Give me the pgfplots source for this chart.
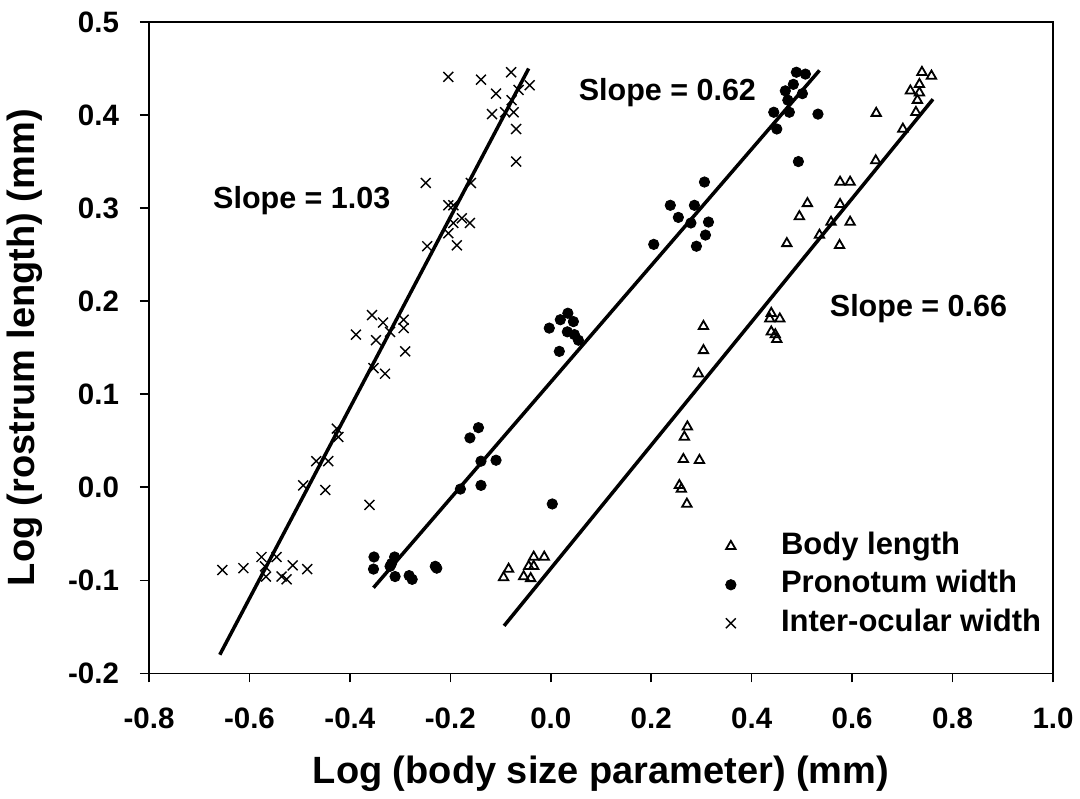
\documentclass[border=0pt]{standalone}
\usepackage{fontspec}
\setmainfont{Liberation Sans}
\usepackage{pgfplots}
\pgfplotsset{compat=1.18}

\begin{document}
\begin{tikzpicture}
\begin{axis}[
    name=main,
    scale only axis,
    width=452pt, height=325.65pt,
    xmin=-0.8, xmax=1.0, ymin=-0.2, ymax=0.5,
    xtick={-0.8,-0.6,-0.4,-0.2,0,0.2,0.4,0.6,0.8,1.0},
    ytick={-0.2,-0.1,0,0.1,0.2,0.3,0.4,0.5},
    xtick pos=left, ytick pos=left,
    tick align=outside, major tick length=4.5pt,
    axis line style={line width=0.75pt},
    tick style={black, line width=0.75pt},
    ticklabel style={font=\fontsize{14.75}{16}\selectfont\bfseries},
    xticklabel style={yshift=-9.5pt},
    yticklabel style={xshift=-7pt},
    /pgf/number format/.cd, fixed, fixed zerofill, precision=1, assume math mode=true,
    /pgfplots/.cd,
    xlabel={Log (body size parameter) (mm)},
    ylabel={Log (rostrum length) (mm)},
    label style={font=\fontsize{19}{22}\selectfont\bfseries},
    xlabel style={at={(axis description cs:0.5,-0.1535)}, anchor=center},
    ylabel style={at={(axis description cs:-0.1372,0.5)}, anchor=center},
    legend cell align=left,
    legend style={draw=none, fill=none, at={(axis cs:0.3474,-0.048)}, anchor=north west,
        inner sep=0pt, row sep=5.25pt, column sep=22.5pt,
        nodes={inner sep=0pt, text height=11pt, text depth=3pt},
        font=\fontsize{15.5}{18}\selectfont\bfseries},
]

% Body length
\addplot[only marks, mark=triangle, mark size=2.7pt, mark options={line width=0.9pt, fill=white, draw=black}] coordinates {
(0.739,0.446) (0.758,0.442) (0.734,0.433) (0.716,0.426) (0.734,0.424) (0.730,0.416)
(0.727,0.403) (0.648,0.402) (0.701,0.385) (0.647,0.351) (0.576,0.328) (0.596,0.328)
(0.511,0.305) (0.576,0.304) (0.495,0.291) (0.558,0.285) (0.596,0.285) (0.535,0.271)
(0.470,0.262) (0.575,0.260) (0.304,0.173) (0.304,0.147) (0.439,0.187) (0.436,0.181)
(0.456,0.181) (0.439,0.167) (0.447,0.164) (0.450,0.159) (0.294,0.122) (0.272,0.065)
(0.266,0.054) (0.264,0.030) (0.296,0.029) (0.256,0.002) (0.260,-0.002) (0.271,-0.018)
(-0.034,-0.075) (-0.013,-0.075) (-0.084,-0.088) (-0.094,-0.097) (-0.044,-0.085)
(-0.034,-0.085) (-0.054,-0.096) (-0.040,-0.098)
};
\addlegendentry{Body length}

% Pronotum width
\addplot[only marks, mark=*, mark size=2.6pt, black] coordinates {
(0.444,0.403) (0.450,0.385) (0.306,0.328) (0.238,0.303) (0.286,0.303) (0.254,0.290)
(0.279,0.284) (0.314,0.285) (0.308,0.271) (0.290,0.259) (0.205,0.261) (0.034,0.187)
(0.019,0.180) (0.045,0.178) (-0.003,0.171) (0.033,0.167) (0.047,0.164) (0.055,0.158)
(0.017,0.146) (0.489,0.446) (0.507,0.444) (0.483,0.433) (0.467,0.426) (0.501,0.423)
(0.472,0.416) (0.475,0.403) (0.532,0.401) (0.493,0.350) (-0.144,0.064) (-0.161,0.053)
(-0.139,0.028) (-0.109,0.029) (-0.180,-0.002) (-0.139,0.002) (0.003,-0.018)
(-0.352,-0.075) (-0.353,-0.088) (-0.311,-0.075) (-0.317,-0.082) (-0.320,-0.085)
(-0.310,-0.096) (-0.282,-0.095) (-0.276,-0.099) (-0.230,-0.085) (-0.227,-0.087)
};
\addlegendentry{Pronotum width}

% Inter-ocular width
\addplot[only marks, mark=x, mark size=3.5pt, mark options={line width=0.7pt}, black] coordinates {
(-0.204,0.441) (-0.139,0.438) (-0.079,0.446) (-0.042,0.432) (-0.109,0.423) (-0.064,0.427)
(-0.078,0.416) (-0.117,0.401) (-0.091,0.403) (-0.074,0.403) (-0.069,0.385) (-0.069,0.350)
(-0.249,0.327) (-0.159,0.327) (-0.204,0.303) (-0.194,0.303) (-0.177,0.289) (-0.161,0.284)
(-0.194,0.284) (-0.204,0.273) (-0.246,0.259) (-0.187,0.260) (-0.356,0.185) (-0.334,0.177)
(-0.293,0.180) (-0.293,0.171) (-0.388,0.164) (-0.348,0.158) (-0.320,0.167) (-0.290,0.146)
(-0.353,0.128) (-0.330,0.122) (-0.426,0.063) (-0.423,0.054) (-0.467,0.028) (-0.443,0.028)
(-0.493,0.002) (-0.449,-0.003) (-0.361,-0.019) (-0.576,-0.075) (-0.546,-0.075)
(-0.569,-0.085) (-0.654,-0.089) (-0.612,-0.087) (-0.514,-0.084) (-0.485,-0.088)
(-0.567,-0.096) (-0.536,-0.096) (-0.526,-0.099)
};
\addlegendentry{Inter-ocular width}

% fitted lines
\addplot[black, line width=1.75pt, forget plot] coordinates {(-0.659,-0.180) (-0.044,0.450)};
\addplot[black, line width=1.75pt, forget plot] coordinates {(-0.353,-0.108) (0.535,0.448)};
\addplot[black, line width=1.75pt, forget plot] coordinates {(-0.093,-0.149) (0.761,0.417)};

\node[anchor=base west, inner sep=0pt, font=\fontsize{15.25}{18}\selectfont\bfseries] at (axis cs:-0.673,0.300) {Slope = 1.03};
\node[anchor=base west, inner sep=0pt, font=\fontsize{15.25}{18}\selectfont\bfseries] at (axis cs:0.055,0.416) {Slope = 0.62};
\node[anchor=base west, inner sep=0pt, font=\fontsize{15.25}{18}\selectfont\bfseries] at (axis cs:0.555,0.183) {Slope = 0.66};
\end{axis}
\pgfresetboundingbox
\path[use as bounding box] ([shift={(-74.5pt,-62.35pt)}]main.south west) rectangle ([shift={(13.5pt,11pt)}]main.north east);
\end{tikzpicture}
\end{document}
